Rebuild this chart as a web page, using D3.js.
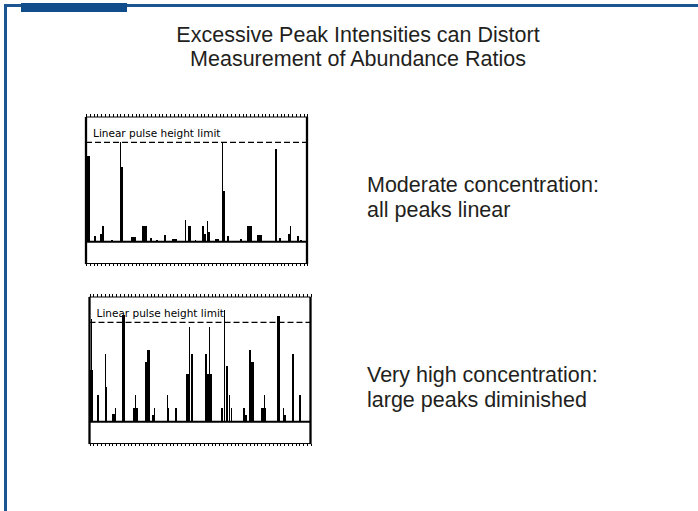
<!DOCTYPE html>
<html lang="en">
<head>
<meta charset="UTF-8">
<title>Excessive Peak Intensities</title>
<script src="https://d3js.org/d3.v7.min.js"></script>
<style>
  body { margin: 0; background: #fff; }
  svg { display: block; font-family: "Liberation Sans", Arial, sans-serif; }
  .title, .note { fill: #231f20; font-size: 21.5px; }
  .limit-label { font-family: "DejaVu Sans", sans-serif; font-size: 10.5px; fill: #000; }
  .limit { stroke: #000; stroke-width: 1.3; stroke-dasharray: 6,3; }
  .ruler path { display: none; }
  .ruler line { stroke: #000; stroke-width: 1; shape-rendering: crispEdges; }
  .peak { shape-rendering: crispEdges; }
</style>
</head>
<body>
<div id="chart"></div>
<script>
// texts
const titleLines = ["Excessive Peak Intensities can Distort", "Measurement of Abundance Ratios"];
const topNote = ["Moderate concentration:", "all peaks linear"];
const bottomNote = ["Very high concentration:", "large peaks diminished"];
const limitLabel = "Linear pulse height limit";

// moderate concentration spectrum (channel, height relative to the limit, peak width)
const topChannel = [2.7, 9, 15, 16.7, 26.3, 34.7, 35.8, 47, 58.3, 65, 70.7, 79, 88, 99, 102.7,
  109, 116.7, 118.3, 120.7, 122.2, 130.5, 136.3, 137.6, 141.3, 154, 162.3, 173.2, 189, 193.3, 202.3, 204, 210.7, 214];
const topHeight = [0.86, 0.06, 0.08, 0.16, 0.02, 1.0, 0.755, 0.05, 0.16, 0.04, 0.02, 0.07, 0.03, 0.22, 0.16,
  0.02, 0.16, 0.08, 0.21, 0.1, 0.03, 1.0, 0.51, 0.06, 0.03, 0.16, 0.07, 0.93, 0.04, 0.08, 0.16, 0.06, 0.02];
const topWidth = [3, 2, 2, 2.5, 2, 1, 2, 5, 5, 2, 1.5, 2, 5, 1, 3,
  1.5, 2, 1.5, 1, 1.5, 4, 1, 2, 2, 2, 5, 5, 2, 1.5, 1.5, 1, 2, 1.5];

// very high concentration spectrum
const bottomChannel = [1.8, 2.4, 8.2, 15.5, 16.6, 24.2, 25.5, 34, 45.8, 45.5, 56.5, 58.8, 64.2, 64.5,
  77.8, 78.6, 86.2, 97.5, 99.8, 102, 116, 119.5, 119.8, 132, 134.8, 136.4, 139.8, 141.5, 153.8, 155.5,
  160, 162.3, 173.5, 173.8, 188, 192.8, 194.2, 203, 210];
const bottomHeight = [0.52, 1.03, 0.27, 0.68, 0.35, 0.08, 0.14, 1.07, 0.14, 0.27, 0.60, 0.72, 0.07, 0.14,
  0.27, 0.14, 0.14, 0.48, 0.95, 0.68, 0.68, 0.48, 0.95, 0.14, 1.12, 0.56, 0.27, 0.14, 0.14, 0.07,
  0.72, 0.60, 0.14, 0.27, 1.06, 0.14, 0.07, 0.68, 0.27];
const bottomWidth = [3, 1, 2, 1, 2, 3, 1, 2.5, 4.5, 1, 3, 2.5, 3, 1,
  1, 2, 2.5, 2.5, 1, 2, 2.5, 4.5, 1, 2.5, 1, 2, 1, 1.5, 1, 2,
  2.5, 2.5, 5, 1, 2.5, 1, 2, 2, 2];

const width = 698, height = 511;
const blue = "#1b5693";

const svg = d3.select("#chart").append("svg")
  .attr("width", width)
  .attr("height", height);

// blue frame with the tab
svg.append("rect").attr("x", 4).attr("y", 4).attr("width", width - 4).attr("height", 3).attr("fill", blue);
svg.append("rect").attr("x", 4).attr("y", 4).attr("width", 3).attr("height", height - 4).attr("fill", blue);
svg.append("rect").attr("x", 21).attr("y", 3).attr("width", 106).attr("height", 9).attr("fill", "#114d8a");

// title
svg.append("g").selectAll("text")
  .data(titleLines)
  .enter().append("text")
  .attr("class", "title")
  .attr("x", 358)
  .attr("y", (d, i) => 41.5 + i * 24)
  .attr("text-anchor", "middle")
  .text(d => d);

function drawNote(lines, y0) {
  svg.append("g").selectAll("text")
    .data(lines)
    .enter().append("text")
    .attr("class", "note")
    .attr("x", 367)
    .attr("y", (d, i) => y0 + i * 25)
    .text(d => d);
}
drawNote(topNote, 192);
drawNote(bottomNote, 381.5);

function drawPanel(left, limitY, channel, heights, widths) {
  const x = d3.scaleLinear().domain([0, 220]).range([0, 221]);
  const y = d3.scaleLinear().domain([0, 1]).range([99.4, 0]);
  const topY = -25.3, bottomY = 121.2;

  const g = svg.append("g").attr("transform", `translate(${left},${limitY})`);

  // ruler borders top and bottom
  const ticks = d3.range(0, 221, 3.8);
  g.append("g").attr("class", "ruler")
    .attr("transform", `translate(0,${topY})`)
    .call(d3.axisTop(x).tickValues(ticks).tickSize(3).tickFormat(""));
  g.append("g").attr("class", "ruler")
    .attr("transform", `translate(0,${bottomY})`)
    .call(d3.axisBottom(x).tickValues(ticks).tickSize(2.5).tickFormat(""));
  g.append("line").attr("x1", x(0)).attr("x2", x(220)).attr("y1", topY).attr("y2", topY)
    .attr("stroke", "#000").attr("stroke-width", 1.2);
  g.append("line").attr("x1", x(0)).attr("x2", x(220)).attr("y1", bottomY).attr("y2", bottomY)
    .attr("stroke", "#000").attr("stroke-width", 1.2);
  g.selectAll("line.side")
    .data([0, 220])
    .enter().append("line")
    .attr("class", "side")
    .attr("x1", d => x(d)).attr("x2", d => x(d))
    .attr("y1", topY).attr("y2", bottomY + 0.6)
    .attr("stroke", "#000").attr("stroke-width", 2.3);

  // limit line + label
  g.append("line").attr("class", "limit")
    .attr("x1", x(0)).attr("x2", x(220)).attr("y1", y(1)).attr("y2", y(1));
  g.append("text").attr("class", "limit-label")
    .attr("x", x(7)).attr("y", y(1) - 5)
    .text(limitLabel);

  // peaks
  const peaks = channel.map((c, i) => ({ c: c, h: heights[i], w: widths[i] }));
  g.selectAll("rect.peak")
    .data(peaks)
    .enter().append("rect")
    .attr("class", "peak")
    .attr("x", d => x(d.c - d.w / 2))
    .attr("width", d => Math.max(1, x(d.w) - x(0)))
    .attr("y", d => y(d.h))
    .attr("height", d => y(0) - y(d.h))
    .attr("fill", "#000");

  // baseline
  g.append("line").attr("x1", x(0)).attr("x2", x(220)).attr("y1", y(0)).attr("y2", y(0))
    .attr("stroke", "#000").attr("stroke-width", 2);
}

drawPanel(86, 142.3, topChannel, topHeight, topWidth);
drawPanel(89.5, 322.3, bottomChannel, bottomHeight, bottomWidth);
</script>
</body>
</html>
